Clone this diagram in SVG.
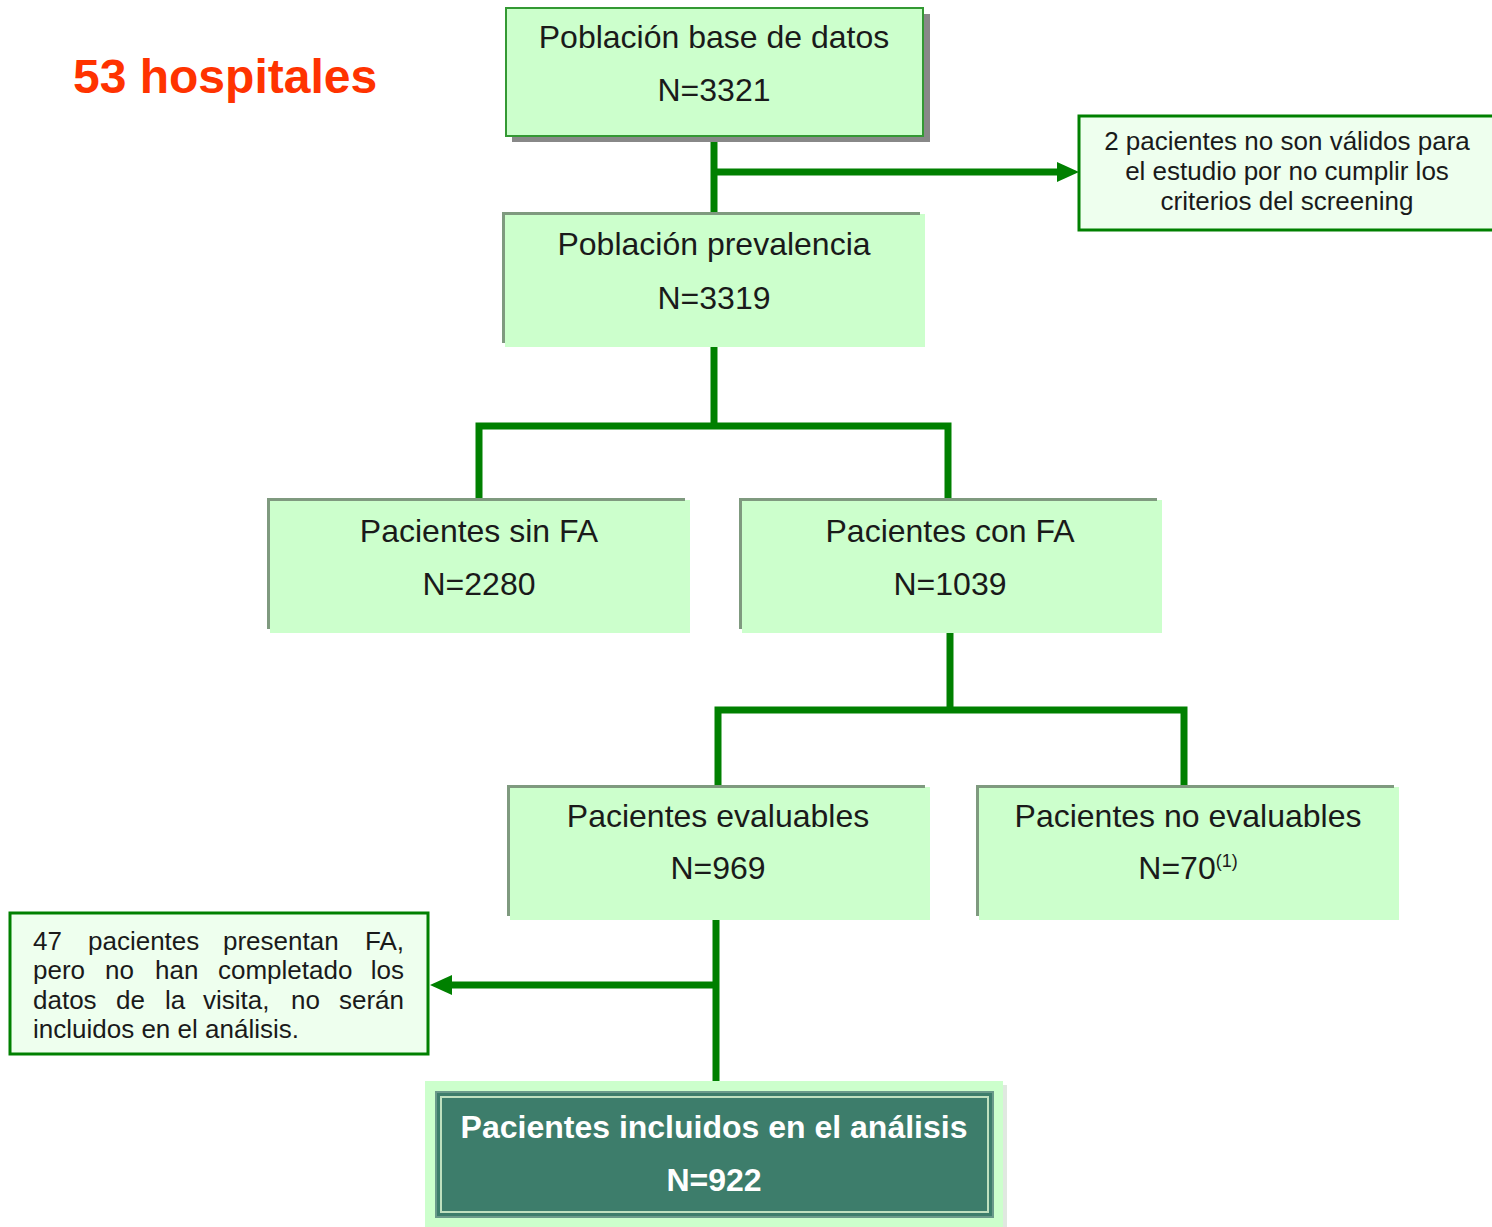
<svg xmlns="http://www.w3.org/2000/svg" width="1492" height="1227" viewBox="0 0 1492 1227">
<style>
.box{fill:#ccffcc}
.edge{fill:none;stroke:#7f9a7f;stroke-width:3}
.t{font-family:"Liberation Sans",Arial,sans-serif;font-size:32px;fill:#1a1a1a;text-anchor:middle}
.n{font-family:"Liberation Sans",Arial,sans-serif;font-size:26px;fill:#1a1a1a}
.note{fill:#eeffee;stroke:#008000;stroke-width:3}
.c{fill:none;stroke:#008000;stroke-width:7}
.w{font-family:"Liberation Sans",Arial,sans-serif;font-size:32px;font-weight:bold;fill:#ffffff;text-anchor:middle}
</style>
<defs>
<marker id="arr" markerUnits="userSpaceOnUse" markerWidth="22" markerHeight="22" viewBox="0 0 22 22" refX="1" refY="11" orient="auto">
<path d="M0,1 L22,11 L0,21 Z" fill="#008000"/>
</marker>
</defs>
<rect width="1492" height="1227" fill="#ffffff"/>
<text x="73" y="93" font-family="Liberation Sans,Arial,sans-serif" font-size="48" font-weight="bold" fill="#ff3300">53 hospitales</text>

<g id="connectors">
<path class="c" d="M714,136 V212"/>
<path class="c" d="M714,172 H1058" marker-end="url(#arr)"/>
<path class="c" d="M714,347 V426"/>
<path class="c" d="M479,498 V426 H948 V498"/>
<path class="c" d="M950,633 V710"/>
<path class="c" d="M718,785 V710 H1184 V785"/>
<path class="c" d="M716,920 V1081"/>
<path class="c" d="M716,985 H451" marker-end="url(#arr)"/>
</g>

<g id="n-base">
<rect x="512" y="14" width="418" height="128" fill="#888888"/>
<rect x="506" y="8" width="417" height="128" fill="#ccffcc" stroke="#339933" stroke-width="2"/>
<text class="t" x="714" y="48">Población base de datos</text>
<text class="t" x="714" y="101">N=3321</text>
</g>

<g id="n-excl1">
<rect class="note" x="1079" y="116" width="420" height="114"/>
<text class="n" x="1287" y="150" text-anchor="middle">2 pacientes no son válidos para</text>
<text class="n" x="1287" y="180" text-anchor="middle">el estudio por no cumplir los</text>
<text class="n" x="1287" y="210" text-anchor="middle">criterios del screening</text>
</g>

<g id="n-prev">
<rect class="box" x="505" y="214" width="420" height="133"/>
<path class="edge" d="M503.5,343 V213.5 H920"/>
<text class="t" x="714" y="255">Población prevalencia</text>
<text class="t" x="714" y="309">N=3319</text>
</g>

<g id="n-sinfa">
<rect class="box" x="270" y="500" width="420" height="133"/>
<path class="edge" d="M268.5,629 V499.5 H685"/>
<text class="t" x="479" y="542">Pacientes sin FA</text>
<text class="t" x="479" y="595">N=2280</text>
</g>

<g id="n-confa">
<rect class="box" x="742" y="500" width="420" height="133"/>
<path class="edge" d="M740.5,629 V499.5 H1157"/>
<text class="t" x="950" y="542">Pacientes con FA</text>
<text class="t" x="950" y="595">N=1039</text>
</g>

<g id="n-eval">
<rect class="box" x="510" y="787" width="420" height="133"/>
<path class="edge" d="M508.5,916 V786.5 H925"/>
<text class="t" x="718" y="827">Pacientes evaluables</text>
<text class="t" x="718" y="879">N=969</text>
</g>

<g id="n-noeval">
<rect class="box" x="979" y="787" width="420" height="133"/>
<path class="edge" d="M977.5,916 V786.5 H1394"/>
<text class="t" x="1188" y="827">Pacientes no evaluables</text>
<text class="t" x="1188" y="879">N=70<tspan font-size="18" dy="-12">(1)</tspan></text>
</g>

<g id="n-excl2">
<rect class="note" x="10" y="913" width="418" height="141"/>
<text class="n" y="950"><tspan x="33">47</tspan><tspan x="88">pacientes</tspan><tspan x="223">presentan</tspan></text>
<text class="n" x="404" y="950" text-anchor="end">FA,</text>
<text class="n" y="979"><tspan x="33">pero</tspan><tspan x="105">no</tspan><tspan x="155">han</tspan><tspan x="218">completado</tspan></text>
<text class="n" x="404" y="979" text-anchor="end">los</text>
<text class="n" y="1009"><tspan x="33">datos</tspan><tspan x="116">de</tspan><tspan x="165">la</tspan><tspan x="203">visita,</tspan><tspan x="291">no</tspan></text>
<text class="n" x="404" y="1009" text-anchor="end">serán</text>
<text class="n" x="33" y="1038">incluidos en el análisis.</text>
</g>

<g id="n-final">
<rect x="429" y="1085" width="578" height="146" fill="#e0e8e0"/>
<rect x="425" y="1081" width="578" height="146" fill="#ccffcc"/>
<rect x="436" y="1092" width="557" height="125" fill="#3d7d6b" stroke="#6a9a8a" stroke-width="2"/>
<rect x="441" y="1097" width="547" height="115" fill="none" stroke="#bfe0bf" stroke-width="2"/>
<text class="w" x="714" y="1138">Pacientes incluidos en el análisis</text>
<text class="w" x="714" y="1191">N=922</text>
</g>
</svg>
